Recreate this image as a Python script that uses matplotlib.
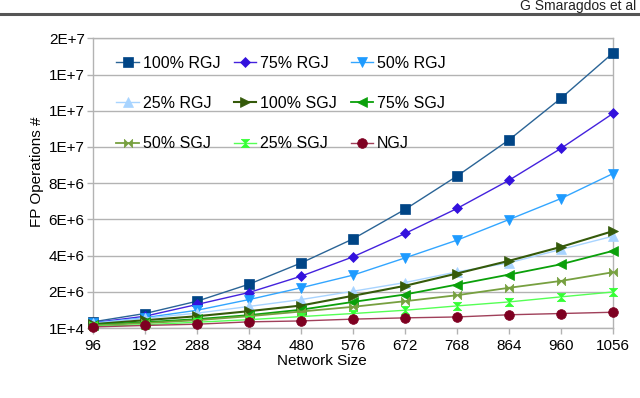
import matplotlib
matplotlib.use("Agg")
import matplotlib.pyplot as plt
from matplotlib.path import Path
from matplotlib.lines import Line2D

plt.rcParams['font.family'] = ['Liberation Sans', 'DejaVu Sans']

sizes = ["96", "192", "288", "384", "480", "576", "672", "768", "864", "960", "1056"]

rgj100 = [0.35e6, 0.81e6, 1.49e6, 2.43e6, 3.60e6, 4.93e6, 6.56e6, 8.40e6, 10.40e6, 12.70e6, 15.20e6]
rgj75 = [0.30e6, 0.66e6, 1.31e6, 1.97e6, 2.87e6, 3.94e6, 5.23e6, 6.61e6, 8.17e6, 9.93e6, 11.86e6]
rgj50 = [0.28e6, 0.58e6, 0.99e6, 1.58e6, 2.23e6, 2.93e6, 3.88e6, 4.86e6, 6.00e6, 7.16e6, 8.54e6]
rgj25 = [0.27e6, 0.55e6, 0.83e6, 1.20e6, 1.58e6, 2.04e6, 2.52e6, 3.11e6, 3.61e6, 4.35e6, 5.08e6]
sgj100 = [0.22e6, 0.44e6, 0.66e6, 0.94e6, 1.25e6, 1.79e6, 2.34e6, 3.02e6, 3.72e6, 4.49e6, 5.36e6]
sgj75 = [0.18e6, 0.33e6, 0.50e6, 0.72e6, 1.02e6, 1.45e6, 1.86e6, 2.41e6, 2.96e6, 3.53e6, 4.27e6]
sgj50 = [0.15e6, 0.28e6, 0.44e6, 0.66e6, 0.92e6, 1.18e6, 1.49e6, 1.82e6, 2.23e6, 2.61e6, 3.09e6]
sgj25 = [0.10e6, 0.19e6, 0.33e6, 0.47e6, 0.64e6, 0.81e6, 0.99e6, 1.23e6, 1.45e6, 1.73e6, 2.00e6]
ngj = [0.07e6, 0.15e6, 0.22e6, 0.35e6, 0.40e6, 0.50e6, 0.57e6, 0.62e6, 0.74e6, 0.81e6, 0.88e6]

series_labels = ["100% RGJ", "75% RGJ", "50% RGJ", "25% RGJ", "100% SGJ",
                 "75% SGJ", "50% SGJ", "25% SGJ", "NGJ"]
series_values = [rgj100, rgj75, rgj50, rgj25, sgj100, sgj75, sgj50, sgj25, ngj]

ytick_values = [1e4 + k * 2e6 for k in range(9)]
ytick_labels = ["1E+4", "2E+6", "4E+6", "6E+6", "8E+6", "1E+7", "1E+7", "1E+7", "2E+7"]

bowtie = Path([(-1, -1), (-1, 1), (1, -1), (1, 1), (-1, -1)],
              [Path.MOVETO, Path.LINETO, Path.LINETO, Path.LINETO, Path.CLOSEPOLY])
hourglass = Path([(-1, -1), (1, -1), (-1, 1), (1, 1), (-1, -1)],
                 [Path.MOVETO, Path.LINETO, Path.LINETO, Path.LINETO, Path.CLOSEPOLY])

colors = ["#004586", "#3311dd", "#1e9bff", "#a8d4ff", "#355a0a",
          "#0aa00a", "#77a040", "#33ff33", "#7e0021"]
line_colors = ["#2a6496", "#4422dd", "#33a6ff", "#a8d4ff", "#355a0a",
               "#0aa00a", "#77a040", "#55ff55", "#a0405a"]
markers = ["s", "D", "v", "^", ">", "<", bowtie, hourglass, "o"]
msizes = [6.5, 5.0, 7.0, 7.0, 7.0, 7.0, 6.0, 6.0, 7.0]
lws = [1.0, 1.0, 1.0, 1.0, 1.5, 1.3, 1.3, 1.0, 1.0]

fig = plt.figure(figsize=(6.4, 3.98), dpi=100)
ax = fig.add_axes([93 / 640, 1 - 328 / 398, 520 / 640, 289.7 / 398])

x = list(range(len(sizes)))
handles = []
for vals, lab, c, lc, m, ms, lw in zip(series_values, series_labels, colors, line_colors, markers, msizes, lws):
    h, = ax.plot(x, vals, color=lc, lw=lw, marker=m, markersize=ms,
                 markerfacecolor=c, markeredgecolor=c, markeredgewidth=0.5, label=lab,
                 clip_on=False, zorder=3)
    handles.append(h)

ax.set_xlim(0, len(sizes) - 1)
ax.set_ylim(1e4, 1.601e7)
ax.set_xticks(x)
ax.set_xticklabels(sizes, fontsize=11)
ax.set_yticks(ytick_values)
ax.set_yticklabels(ytick_labels, fontsize=11)
ax.tick_params(axis='both', direction='out', length=4, color='#b3b3b3', width=1, pad=2)
ax.tick_params(axis='x', pad=4)
ax.yaxis.grid(True, color='#b3b3b3', lw=1)
ax.set_axisbelow(True)
for s in ax.spines.values():
    s.set_color('#b3b3b3')
    s.set_linewidth(1)

# row-major legend order (matplotlib fills columns first)
ncol = 3
order = [r * ncol + c for c in range(ncol) for r in range(len(handles) // ncol)]
leg = ax.legend([handles[i] for i in order], [series_labels[i] for i in order],
                ncol=ncol, loc='upper left', bbox_to_anchor=(0.045, 0.94),
                frameon=False, fontsize=11.5, handlelength=1.4, handletextpad=0.25,
                columnspacing=0.85, labelspacing=1.58, borderpad=0, borderaxespad=0)

fig.text(322 / 640, 1 - 361 / 398, "Network Size", ha='center', va='center', fontsize=11)
fig.text(37 / 640, 1 - 172 / 398, "FP Operations #", ha='center', va='center',
         rotation=90, fontsize=11)

# page header fragment
fig.text(636 / 640, 1 - 10 / 398, "G Smaragdos et al", ha='right', va='baseline',
         fontsize=10, color='#222222')
fig.add_artist(Line2D([0, 1], [1 - 13.5 / 398, 1 - 13.5 / 398], transform=fig.transFigure,
                      color='#555555', lw=2.2))

fig.savefig("out.png", dpi=100)
